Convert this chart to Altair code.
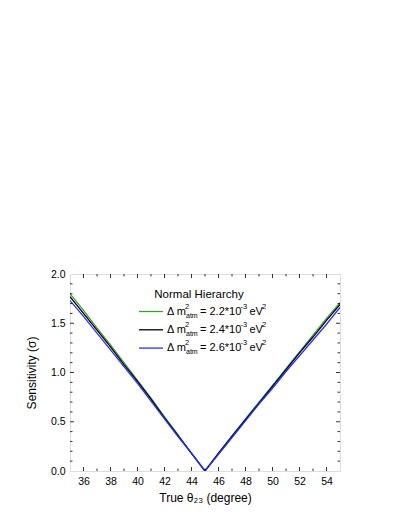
import altair as alt
import pandas as pd

theta = [35, 36, 37, 38, 39, 40, 41, 42, 43, 44, 45, 46, 47, 48, 49, 50, 51, 52, 53, 54, 55]
s22 = [1.80, 1.63, 1.45, 1.28, 1.10, 0.92, 0.74, 0.55, 0.37, 0.18, 0.0,
       0.18, 0.36, 0.53, 0.70, 0.87, 1.04, 1.21, 1.38, 1.55, 1.71]
s24 = [1.77, 1.60, 1.43, 1.26, 1.08, 0.91, 0.73, 0.54, 0.36, 0.18, 0.0,
       0.18, 0.35, 0.52, 0.69, 0.86, 1.03, 1.20, 1.36, 1.53, 1.69]
s26 = [1.73, 1.57, 1.40, 1.23, 1.06, 0.89, 0.71, 0.53, 0.35, 0.18, 0.0,
       0.17, 0.34, 0.51, 0.68, 0.84, 1.01, 1.17, 1.33, 1.49, 1.66]

series = ["2.2", "2.4", "2.6"]
colors = ["#33a532", "#000000", "#2d2dff"]

x_major = [36, 38, 40, 42, 44, 46, 48, 50, 52, 54]
x_minor = [37, 39, 41, 43, 45, 47, 49, 51, 53]
y_labels = [0, 0.5, 1.0, 1.5, 2.0]
y_major = [0.5, 1.0, 1.5]
y_minor = [0.1, 0.2, 0.3, 0.4, 0.6, 0.7, 0.8, 0.9, 1.1, 1.2, 1.3, 1.4, 1.6, 1.7, 1.8, 1.9]

W, H = 270, 197
FONT = "Liberation Sans"

rows = []
for name, vals in zip(series, [s22, s24, s26]):
    for t, v in zip(theta, vals):
        rows.append({"theta": t, "sens": v, "series": name})
df = pd.DataFrame(rows)

xs = alt.Scale(domain=[35, 55], nice=False, zero=False)
ys = alt.Scale(domain=[0, 2.0], nice=False)

AX = alt.Axis(values=x_major, ticks=False, domain=False, grid=False,
              labelOverlap=False, labelFontSize=10.5, labelPadding=5,
              labelFont=FONT, labelColor="#000", title="True θ₂₃ (degree)",
              titleFont=FONT, titleFontSize=12, titleFontWeight="normal",
              titlePadding=6, titleColor="#000")
AY = alt.Axis(values=y_labels, format=".1f", ticks=False,
              labelOverlap=False, domain=False, grid=False, labelFontSize=10.5,
              labelPadding=5, labelFont=FONT, labelColor="#000",
              title="Sensitivity (σ)", titleFont=FONT, titleFontSize=12,
              titleFontWeight="normal", titlePadding=12, titleColor="#000")

lines = alt.Chart(df).mark_line(strokeWidth=1.3, clip=True).encode(
    x=alt.X("theta:Q", scale=xs, axis=AX),
    y=alt.Y("sens:Q", scale=ys, axis=AY),
    color=alt.Color("series:N", scale=alt.Scale(domain=series, range=colors), legend=None),
    order=alt.Order("theta:Q"),
)

def xticks(vals, length):
    d = pd.DataFrame({"v": vals})
    b = alt.Chart(d).mark_rule(color="#000", strokeWidth=0.8).encode(
        x=alt.X("v:Q", scale=xs, axis=AX), y=alt.value(H), y2=alt.value(H - length))
    t = alt.Chart(d).mark_rule(color="#000", strokeWidth=0.8).encode(
        x=alt.X("v:Q", scale=xs, axis=AX), y=alt.value(0), y2=alt.value(length))
    return [b, t]

def yticks(vals, length):
    d = pd.DataFrame({"v": vals})
    l = alt.Chart(d).mark_rule(color="#000", strokeWidth=0.8).encode(
        y=alt.Y("v:Q", scale=ys, axis=AY), x=alt.value(0), x2=alt.value(length))
    r = alt.Chart(d).mark_rule(color="#000", strokeWidth=0.8).encode(
        y=alt.Y("v:Q", scale=ys, axis=AY), x=alt.value(W), x2=alt.value(W - length))
    return [l, r]

ticks = xticks(x_major, 4) + xticks(x_minor, 2.5) + yticks(y_major, 4) + yticks(y_minor, 2.5)

# legend
leg_y = [37.5, 55.8, 74.1]
leg = pd.DataFrame({"series": series, "ly": leg_y,
                    "main": ["= " + s + "*10" for s in series]})

title_txt = alt.Chart(pd.DataFrame({"t": ["Normal Hierarchy"]})).mark_text(
    font=FONT, fontSize=11.5, align="center", baseline="middle").encode(
    text="t:N", x=alt.value(129), y=alt.value(21), color=alt.value("#000"))

base = alt.Chart(leg)
sw = base.mark_rule(strokeWidth=1.3).encode(
    x=alt.value(69), x2=alt.value(93), y=alt.Y("ly:Q", scale=None),
    color=alt.Color("series:N", scale=alt.Scale(domain=series, range=colors), legend=None))

def piece(text, x, dy, size):
    return base.mark_text(font=FONT, fontSize=size, align="left", baseline="middle",
                          dy=dy).encode(
        text=alt.value(text) if text is not None else "main:N",
        x=alt.value(x), y=alt.Y("ly:Q", scale=None), color=alt.value("#000"))

legend_layers = [
    sw,
    piece("Δ m", 97, 0, 11),
    piece("2", 115, -5, 7.5),
    piece("atm", 116, 4, 7),
    piece(None, 130, 0, 11),
    piece("-3", 170.5, -5, 7.5),
    piece("eV", 179.5, 0, 11),
    piece("2", 192, -5, 7.5),
]

chart = alt.layer(lines, *ticks, title_txt, *legend_layers).properties(
    width=W, height=H,
    autosize=alt.AutoSizeParams(type="none"),
    padding={"left": 62, "top": 266, "right": 52, "bottom": 46},
).configure_view(stroke="#000", strokeWidth=1).configure(background="white")

chart.save("out.html", embed_options={"renderer": "svg", "actions": False})
